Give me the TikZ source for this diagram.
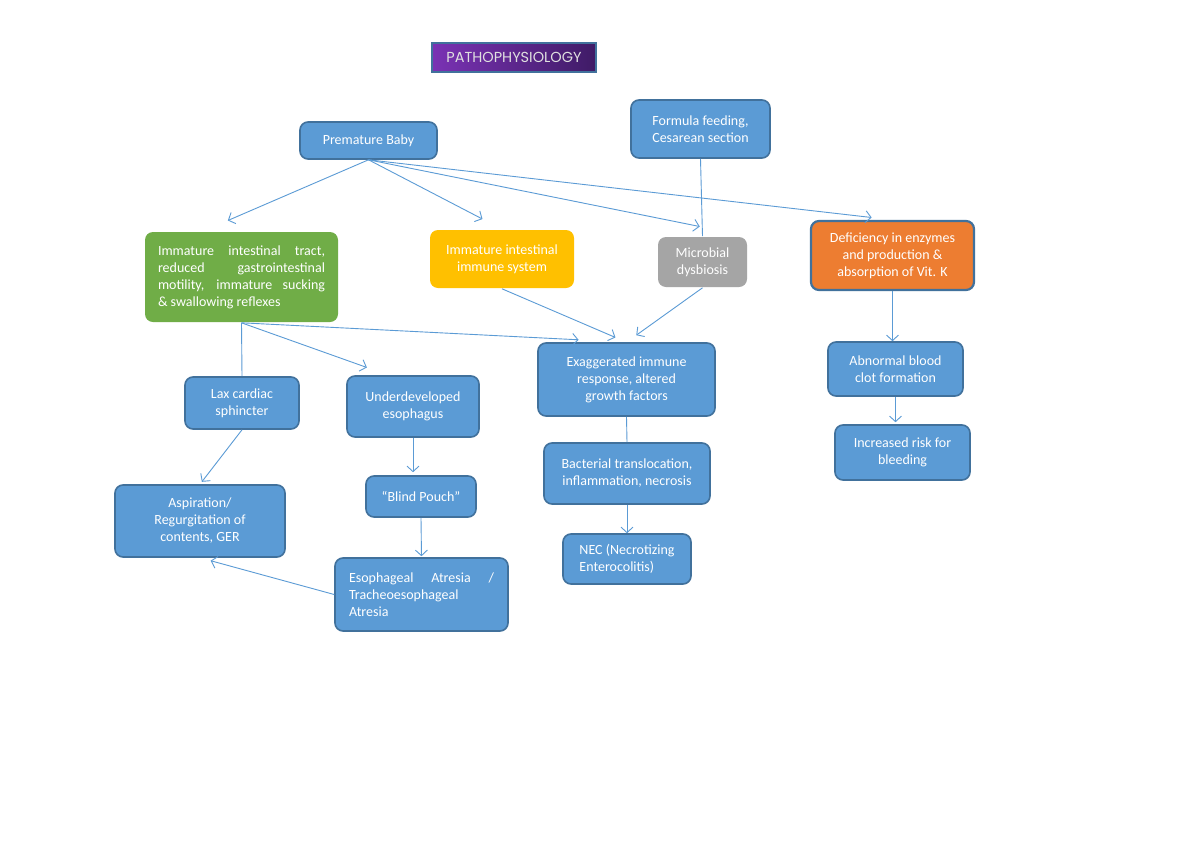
\documentclass[tikz,border=0pt]{standalone}
\usepackage{fontspec}
\setmainfont{Carlito}
\newfontfamily\titlefont{Poppins}
\usepackage{tikz}
\usetikzlibrary{arrows.meta, positioning, calc}
\definecolor{boxfill}{HTML}{5B9BD5}
\definecolor{boxedge}{HTML}{41719C}
\definecolor{greenfill}{HTML}{70AD47}
\definecolor{yellowfill}{HTML}{FFC000}
\definecolor{grayfill}{HTML}{A5A5A5}
\definecolor{orangefill}{HTML}{ED7D31}
\definecolor{titleleft}{HTML}{7A32B4}
\definecolor{titleright}{HTML}{3F1B66}
\definecolor{linkblue}{HTML}{5B9BD5}

\begin{document}
\begin{tikzpicture}[x=1pt, y=-1pt, >={Straight Barb[length=5.5pt,width=12pt]},
    box/.style={draw=boxedge, fill=boxfill, line width=1.6pt, rounded corners=8pt, text=white,
      inner sep=0pt, align=center, font=\fontsize{14}{17}\selectfont},
    link/.style={draw=linkblue, line width=0.9pt}]
  \useasboundingbox (0,0) rectangle (1200,849);
  \fill[white] (0,0) rectangle (1200,849);

  \node[box, left color=titleleft, right color=titleright, rounded corners=0pt, line width=1.4pt,
    minimum width=164pt, minimum height=29pt, text=white!88!black,
    font=\titlefont\fontsize{14.5}{16}\selectfont] (title) at (514,57.5) {PATHOPHYSIOLOGY};

  \node[box, minimum width=137pt, minimum height=37pt] (baby) at (368.5,140.5) {Premature Baby};
  \node[box, minimum width=139pt, minimum height=58pt] (formula) at (700.5,129) {Formula feeding,\\Cesarean section};

  \node[box, draw=none, fill=greenfill, minimum width=193pt, minimum height=90pt, align=left] (tract) at (241.5,277)
    {\makebox[167pt][s]{Immature intestinal tract,}\\ \makebox[167pt][s]{reduced gastrointestinal}\\
     \makebox[167pt][s]{motility, immature sucking}\\ \& swallowing reflexes};
  \node[box, draw=none, fill=yellowfill, minimum width=144pt, minimum height=58pt] (immune) at (502,259) {Immature intestinal\\immune system};
  \node[box, draw=none, fill=grayfill, minimum width=89pt, minimum height=50pt] (dysbiosis) at (702.5,262) {Microbial\\dysbiosis};
  \node[box, fill=orangefill, line width=2.2pt, minimum width=163pt, minimum height=69pt] (vitk) at (892.5,255.5)
    {Deficiency in enzymes\\and production \&\\absorption of Vit. K};

  \node[box, minimum width=177pt, minimum height=73pt] (response) at (626.5,379.5) {Exaggerated immune\\response, altered\\growth factors};
  \node[box, minimum width=114pt, minimum height=52pt] (sphincter) at (242,403) {Lax cardiac\\sphincter};
  \node[box, minimum width=132pt, minimum height=61pt] (esophagus) at (413,406.5) {Underdeveloped\\esophagus};
  \node[box, minimum width=170pt, minimum height=72pt] (aspiration) at (200,521) {Aspiration/\\Regurgitation of\\contents, GER};
  \node[box, minimum width=110pt, minimum height=41pt] (pouch) at (421,496.5) {“Blind Pouch”};
  \node[box, minimum width=173pt, minimum height=73pt, align=left] (atresia) at (421.5,594.5)
    {\makebox[145pt][s]{Esophageal Atresia /}\\ Tracheoesophageal\\ Atresia};
  \node[box, minimum width=166pt, minimum height=61pt] (bacteria) at (627,473.5) {Bacterial translocation,\\inflammation, necrosis};
  \node[box, minimum width=128pt, minimum height=50pt, align=left] (nec) at (627,559) {NEC (Necrotizing\\Enterocolitis)};
  \node[box, minimum width=135pt, minimum height=54pt] (clot) at (895.5,369) {Abnormal blood\\clot formation};
  \node[box, minimum width=135pt, minimum height=55pt] (bleeding) at (902.5,452.5) {Increased risk for\\bleeding};

  \draw[link, ->, shorten >=27pt] (baby.south) -- (tract.130);
  \draw[link, ->, shorten >=22pt] (baby.south) -- (immune.north);
  \draw[link, ->, shorten >=49pt] (baby.south) -- (dysbiosis.north east);
  \draw[link, ->, shorten >=21pt] (baby.south) -- (vitk.north);
  \draw[link] (formula.south) -- (dysbiosis.north);

  \draw[link] (tract.south) -- (sphincter.north);
  \draw[link, ->, shorten >=23pt] (tract.south) -- (esophagus.128);
  \draw[link, ->, shorten >=48pt] (tract.south) -- (response.north);
  \draw[link, ->, shorten >=12pt] (immune.south) -- (response.north);
  \draw[link, ->, shorten >=12pt] (dysbiosis.south) -- (response.north);

  \draw[link, ->] (vitk.south) -- (vitk.south |- clot.north);
  \draw[link, ->, shorten >=2pt] (clot.south) -- (clot.south |- bleeding.north);
  \draw[link] (response.south) -- (bacteria.north);
  \draw[link, ->] (bacteria.south) -- (nec.north);

  \draw[link, ->, shorten >=3pt] (sphincter.south) -- (aspiration.north);
  \draw[link, ->, shorten >=3pt] (esophagus.south) -- (esophagus.south |- pouch.north);
  \draw[link, ->, shorten >=1pt] (pouch.south) -- (atresia.north);
  \draw[link, ->, shorten >=11pt] (atresia.west) -- (aspiration.south);
\end{tikzpicture}
\end{document}
